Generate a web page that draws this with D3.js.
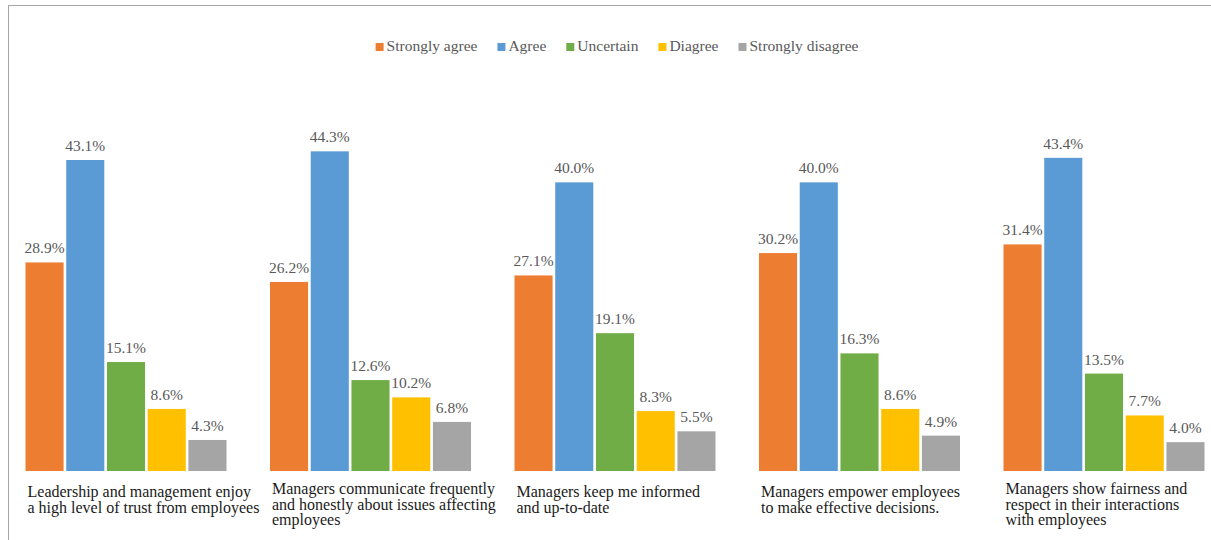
<!DOCTYPE html>
<html>
<head>
<meta charset="utf-8">
<script src="https://cdn.jsdelivr.net/npm/d3@7"></script>
<style>
  html, body { margin: 0; padding: 0; background: #fff; }
  svg { display: block; }
</style>
</head>
<body>
<svg id="chart" width="1211" height="540" font-family="'Liberation Serif', 'Times New Roman', Times, 'DejaVu Serif', serif"></svg>
<script>
// Survey statements (line breaks mark the wrapped label lines)
const categories = [
  "Leadership and management enjoy\na high level of trust from employees",
  "Managers communicate frequently\nand honestly about issues affecting\nemployees",
  "Managers keep me informed\nand up-to-date",
  "Managers empower employees\nto make effective decisions.",
  "Managers show fairness and\nrespect in their interactions\nwith employees"
];

const seriesNames = ["Strongly agree", "Agree", "Uncertain", "Diagree", "Strongly disagree"];
const seriesColors = ["#ED7D31", "#5B9BD5", "#70AD47", "#FFC000", "#A5A5A5"];

// Percentage of responses per statement, one array per answer
const stronglyAgree    = [28.9, 26.2, 27.1, 30.2, 31.4];
const agree            = [43.1, 44.3, 40.0, 40.0, 43.4];
const uncertain        = [15.1, 12.6, 19.1, 16.3, 13.5];
const diagree          = [8.6, 10.2, 8.3, 8.6, 7.7];
const stronglyDisagree = [4.3, 6.8, 5.5, 4.9, 4.0];

const seriesValues = [stronglyAgree, agree, uncertain, diagree, stronglyDisagree];

const svg = d3.select("#chart");

// Chart frame
svg.append("rect")
  .attr("x", 8.5).attr("y", 5.5)
  .attr("width", 1300).attr("height", 600)
  .attr("fill", "none")
  .attr("stroke", "#a6a6a6")
  .attr("stroke-width", 1);

const baseY = 471;
const y = d3.scaleLinear().domain([0, 50]).range([baseY, baseY - 360.8]);

const x0 = d3.scaleBand()
  .domain(d3.range(categories.length))
  .range([3.75, 3.75 + 5 * 244.5]);

const clusterWidth = 201;
const x1 = d3.scaleBand()
  .domain(seriesNames)
  .range([0, clusterWidth])
  .paddingInner(0.065);

const rows = categories.map((c, i) => ({
  index: i,
  label: c,
  values: seriesNames.map((s, k) => ({ series: s, color: seriesColors[k], value: seriesValues[k][i] }))
}));

const groups = svg.append("g").selectAll("g")
  .data(rows)
  .join("g")
  .attr("transform", d => `translate(${x0(d.index) + x0.bandwidth() / 2 - clusterWidth / 2},0)`);

groups.selectAll("rect")
  .data(d => d.values)
  .join("rect")
  .attr("x", d => x1(d.series))
  .attr("y", d => y(d.value))
  .attr("width", x1.bandwidth())
  .attr("height", d => baseY - y(d.value))
  .attr("fill", d => d.color);

groups.selectAll("text.value")
  .data(d => d.values)
  .join("text")
  .attr("class", "value")
  .attr("x", d => x1(d.series) + x1.bandwidth() / 2)
  .attr("y", d => y(d.value) - 9)
  .attr("text-anchor", "middle")
  .attr("font-size", "15.5px")
  .attr("fill", "#595959")
  .text(d => d.value.toFixed(1) + "%");

// Category labels below each cluster
groups.append("text")
  .attr("class", "category")
  .attr("font-size", "16px")
  .attr("fill", "#1a1a1a")
  .each(function (d) {
    const lines = d.label.split("\n");
    const top = 497 - (lines.length - 2) * 3;
    d3.select(this).selectAll("tspan")
      .data(lines)
      .join("tspan")
      .attr("x", 2)
      .attr("y", (l, j) => top + j * 15.5)
      .text(l => l);
  });

// Legend, centred above the plot
const legend = svg.append("g");
const items = legend.selectAll("g")
  .data(seriesNames.map((s, k) => ({ name: s, color: seriesColors[k] })))
  .join("g");

items.append("rect")
  .attr("width", 8).attr("height", 8)
  .attr("y", -8)
  .attr("fill", d => d.color);

items.append("text")
  .attr("x", 11)
  .attr("y", 0)
  .attr("font-size", "15.5px")
  .attr("fill", "#595959")
  .text(d => d.name);

let cursor = 0;
items.each(function () {
  const w = d3.select(this).select("text").node().getComputedTextLength();
  d3.select(this).attr("transform", `translate(${cursor},0)`);
  cursor += 11 + w + 20;
});
const legendWidth = cursor - 20;
legend.attr("transform", `translate(${617 - legendWidth / 2},51)`);
</script>
</body>
</html>
